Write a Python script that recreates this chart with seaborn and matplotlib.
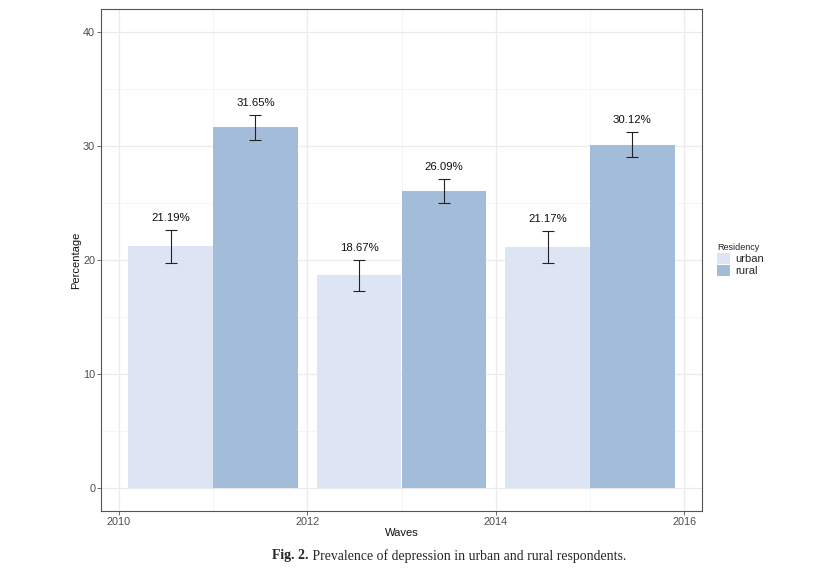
import matplotlib
matplotlib.use("Agg")
import matplotlib.pyplot as plt
import seaborn as sns
import pandas as pd
import numpy as np
from matplotlib.ticker import MultipleLocator

waves = [2011, 2011, 2013, 2013, 2015, 2015]
residency = ["urban", "rural", "urban", "rural", "urban", "rural"]
percentage = [21.19, 31.65, 18.67, 26.09, 21.17, 30.12]
lower = [19.78, 30.55, 17.24, 25.03, 19.78, 29.06]
upper = [22.67, 32.73, 20.04, 27.13, 22.58, 31.25]
labels = ["21.19%", "31.65%", "18.67%", "26.09%", "21.17%", "30.12%"]

df = pd.DataFrame({"Waves": waves, "Residency": residency, "Percentage": percentage,
                   "lower": lower, "upper": upper, "label": labels})

sns.set_theme(style="white")
plt.rcParams["font.family"] = ["Liberation Sans", "DejaVu Sans"]

fig = plt.figure(figsize=(8.17, 5.71), dpi=100)
ax = fig.add_axes([101/817, (571-511)/571, 601/817, 502/571])

palette = {"urban": "#dde4f3", "rural": "#a3bcd9"}
sns.barplot(data=df, x="Waves", y="Percentage", hue="Residency", hue_order=["urban", "rural"],
            palette=palette, native_scale=True, width=0.9, gap=0, saturation=1,
            linewidth=0, errorbar=None, ax=ax, legend=True, zorder=2)

# error bars and labels, positioned from drawn bars
bars = [p for p in ax.patches if p.get_height() > 0]
for p in bars:
    cx = p.get_x() + p.get_width() / 2
    h = p.get_height()
    row = df.iloc[int(np.argmin(np.abs(df["Percentage"].values - h)))]
    ax.errorbar(cx, h, yerr=[[h - row["lower"]], [row["upper"] - h]], fmt="none",
                ecolor="#222222", elinewidth=0.8, capsize=4.5, capthick=0.8, zorder=3)
    ax.text(cx, row["upper"] + 0.6, row["label"], ha="center", va="bottom",
            fontsize=8.2, color="#111111", zorder=4)

ax.set_xlim(2009.81, 2016.19)
ax.set_ylim(-2, 42)
ax.set_xticks([2010, 2012, 2014, 2016])
ax.set_yticks([0, 10, 20, 30, 40])
ax.xaxis.set_minor_locator(MultipleLocator(1))
ax.yaxis.set_minor_locator(MultipleLocator(5))
ax.grid(True, which="major", color="#ebebeb", linewidth=0.9, zorder=0)
ax.grid(True, which="minor", color="#f2f2f2", linewidth=0.5, zorder=0)
ax.set_axisbelow(True)
ax.tick_params(axis="both", which="major", length=3, width=0.6, color="#555555",
               labelsize=7.8, labelcolor="#4d4d4d", pad=1.2, bottom=True, left=True)
ax.tick_params(axis="both", which="minor", length=0)
for s in ax.spines.values():
    s.set_color("#555555")
    s.set_linewidth(0.8)
ax.set_xlabel("Waves", fontsize=8, color="#111111", labelpad=0.5)
ax.set_ylabel("Percentage", fontsize=8, color="#111111", labelpad=1.5)

handles, labs = ax.get_legend_handles_labels()
leg = ax.legend(handles, labs, title="Residency", loc="center left",
                bbox_to_anchor=(1.012, 0.5), frameon=False, fontsize=8,
                title_fontsize=6.5, handlelength=1.2, handleheight=1.2,
                handletextpad=0.4, labelspacing=0.05, borderaxespad=0.3)
leg._legend_box.align = "left"

# caption
fig.canvas.draw()
r = fig.canvas.get_renderer()
ycap = (571 - 556) / 571
t1 = fig.text(0, ycap, "Fig. 2.", fontsize=9.9, fontweight="bold",
              family=["Liberation Serif", "DejaVu Serif"], va="center", ha="left")
t2 = fig.text(0, ycap, " Prevalence of depression in urban and rural respondents.",
              fontsize=9.9, family=["Liberation Serif", "DejaVu Serif"], va="center", ha="left")
w1 = t1.get_window_extent(r).width
w2 = t2.get_window_extent(r).width
total = w1 + w2
x0 = 449 - total / 2
t1.set_x(x0 / 817)
t2.set_x((x0 + w1) / 817)

fig.savefig("out.png", dpi=100)
